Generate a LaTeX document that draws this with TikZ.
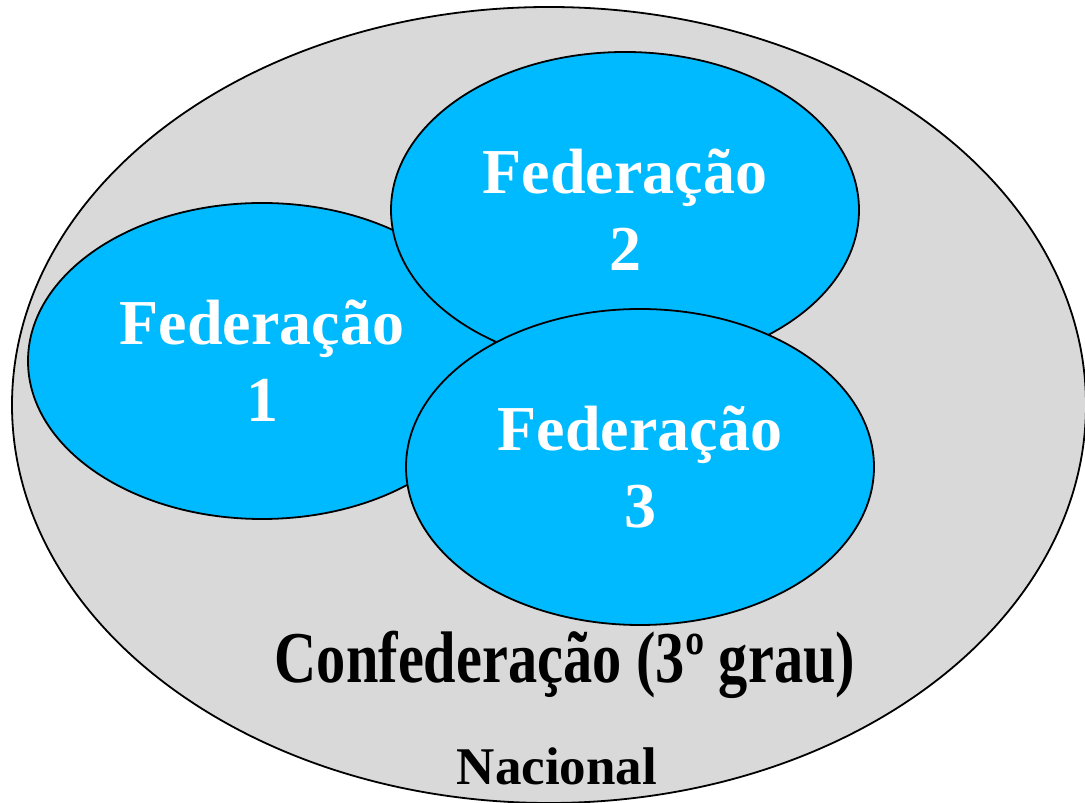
\documentclass[tikz,border=0pt]{standalone}
\usepackage{fontspec}
\setmainfont{Liberation Serif}
\usetikzlibrary{shapes.geometric}
\definecolor{fedblue}{RGB}{0,186,255}
\definecolor{natgray}{RGB}{217,217,217}
\tikzset{
  fed/.style={ellipse, draw=black, line width=1.8pt, fill=fedblue, inner sep=0pt,
    minimum width=468pt, minimum height=316pt, align=center, text=white,
    font=\fontsize{64}{77}\selectfont\bfseries},
  outer/.style={ellipse, draw=black, line width=1.8pt, fill=natgray, inner sep=0pt,
    minimum width=1074pt, minimum height=796pt},
  lbl/.style={anchor=base, inner sep=0pt, text=black}
}
\begin{document}
\begin{tikzpicture}[x=1pt,y=1pt]
\useasboundingbox (0,0) rectangle (1085,803);
\clip (0,0) rectangle (1085,803);
\node[outer] (nac) at (549,398) {};
\node[fed] (f1) at (262,442) {Federação\\1};
\node[fed] (f2) at (625,593) {Federação\\2};
\node[fed] (f3) at (640,336) {Federação\\3};
\node[lbl, font=\fontsize{73}{80}\selectfont\bfseries] (conf) at (565,120) {\scalebox{0.8}[1]{Confederação (3º grau)}};
\node[lbl, font=\fontsize{53}{60}\selectfont\bfseries] (nacl) at (557,18) {Nacional};
\end{tikzpicture}
\end{document}
